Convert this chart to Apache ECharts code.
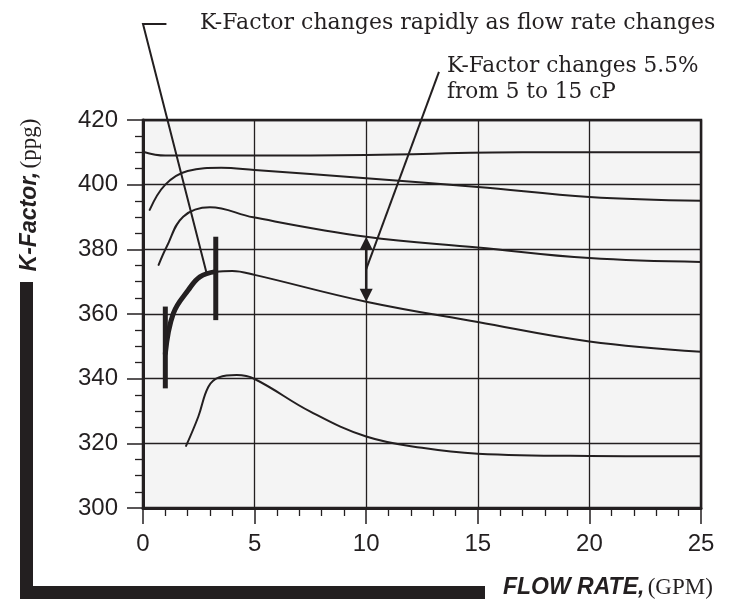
<!DOCTYPE html>
<html>
<head>
<meta charset="utf-8">
<script src="https://cdn.jsdelivr.net/npm/echarts@6/dist/echarts.min.js"></script>
<style>
  html, body { margin: 0; padding: 0; background: #ffffff; }
  #chart { width: 732px; height: 600px; }
</style>
</head>
<body>
<div id="chart"></div>
<script>
// Flow rate axis (GPM) and K-Factor axis (ppg)
const flowTicks = [0, 5, 10, 15, 20, 25];
const kTicks = [300, 320, 340, 360, 380, 400, 420];

// K-Factor curves, one per fluid viscosity (top to bottom)
const curveAX = [0, 1, 5, 10, 17, 25];
const curveAY = [410.2, 409, 409, 409.2, 410, 410];

const curveBX = [0.3, 1, 2, 3.5, 5, 10, 15, 20, 25];
const curveBY = [392.2, 400, 404.2, 405.2, 404.5, 402, 399.3, 396.2, 395];

const curveCX = [0.7, 1.06, 1.8, 3.0, 4.94, 10, 15, 20, 25];
const curveCY = [375.2, 380.8, 390.1, 393.0, 389.9, 383.9, 380.6, 377.3, 376.1];

const curveDX = [1, 1.36, 2.03, 2.55, 3.26, 4.0, 5.0, 10, 15, 20, 25];
const curveDY = [347.8, 360.2, 367.4, 371.5, 373.1, 373.3, 372.1, 363.8, 357.5, 351.5, 348.3];

const curveEX = [1.93, 2.48, 2.93, 3.4, 4.2, 5, 7.5, 10, 12.5, 15, 20, 25];
const curveEY = [319.2, 328.3, 337.5, 340.4, 341.1, 339.9, 329.8, 322.1, 318.6, 316.8, 316.1, 316];

// Steep low-flow section of curve D, bounded by two range bars
const steepCount = 5;
const rangeBarX = [1, 3.26];
const rangeBarLow = [337, 358.1];
const rangeBarHigh = [362.3, 383.9];

// Viscosity comparison at 10 GPM (between curves C and D)
const compareX = 10;

const INK = '#231f20';

function pairs(xs, ys) { return xs.map((x, i) => [x, ys[i]]); }

function curveSeries(name, data, width) {
  return {
    name: name,
    type: 'line',
    data: data,
    symbol: 'none',
    smooth: 0.4,
    lineStyle: { color: INK, width: width, cap: 'round', join: 'round' },
    silent: true,
    z: 3
  };
}

const chart = echarts.init(document.getElementById('chart'), null, { renderer: 'canvas' });

chart.setOption({
  animation: false,
  backgroundColor: '#ffffff',
  grid: {
    left: 143, right: 31, top: 120, bottom: 92,
    show: true,
    backgroundColor: '#f4f4f4',
    borderColor: INK,
    borderWidth: 2.5
  },
  xAxis: {
    type: 'value',
    min: flowTicks[0],
    max: flowTicks[flowTicks.length - 1],
    interval: flowTicks[1] - flowTicks[0],
    axisLine: { show: true, onZero: false, lineStyle: { color: INK, width: 3 } },
    axisTick: { show: true, inside: false, length: 16, lineStyle: { color: INK, width: 1.5 } },
    minorTick: { show: true, splitNumber: 5, length: 8, lineStyle: { color: INK, width: 1.3 } },
    splitLine: { show: true, lineStyle: { color: INK, width: 1.3 } },
    axisLabel: {
      margin: 24,
      color: INK,
      fontFamily: 'Liberation Sans',
      fontSize: 24,
      formatter: v => String(v)
    }
  },
  yAxis: {
    type: 'value',
    min: kTicks[0],
    max: kTicks[kTicks.length - 1],
    interval: kTicks[1] - kTicks[0],
    axisLine: { show: true, onZero: false, lineStyle: { color: INK, width: 3 } },
    axisTick: { show: true, inside: false, length: 16, lineStyle: { color: INK, width: 1.5 } },
    minorTick: { show: true, splitNumber: 4, length: 8, lineStyle: { color: INK, width: 1.3 } },
    splitLine: { show: true, lineStyle: { color: INK, width: 1.3 } },
    axisLabel: {
      margin: 25,
      color: INK,
      fontFamily: 'Liberation Sans',
      fontSize: 24,
      formatter: v => String(v)
    }
  },
  series: [
    curveSeries('A', pairs(curveAX, curveAY), 2),
    curveSeries('B', pairs(curveBX, curveBY), 2),
    curveSeries('C', pairs(curveCX, curveCY), 2),
    curveSeries('D', pairs(curveDX, curveDY), 2),
    curveSeries('D steep', pairs(curveDX.slice(0, steepCount), curveDY.slice(0, steepCount)), 5),
    curveSeries('E', pairs(curveEX, curveEY), 2)
  ]
});

// Annotations positioned from data coordinates
const toPx = p => chart.convertToPixel({ gridIndex: 0 }, p);

const yAt10C = curveCY[curveCX.indexOf(compareX)];
const yAt10D = curveDY[curveDX.indexOf(compareX)];
const arrowTop = toPx([compareX, yAt10C]);
const arrowBot = toPx([compareX, yAt10D]);
const head = 13, halfW = 6.5;

const leaderCorner = toPx([0, 449.7]);
const leaderHook = toPx([1.05, 449.7]);
const leaderEnd = toPx([2.85, 372.6]);
const note2Start = toPx([13.26, 434.9]);
const note2End = toPx([compareX, (yAt10C + yAt10D) / 2]);

const graphics = [];

// Range bars on the steep section
rangeBarX.forEach((x, i) => {
  const a = toPx([x, rangeBarLow[i]]);
  const b = toPx([x, rangeBarHigh[i]]);
  graphics.push({
    type: 'line', z: 10,
    shape: { x1: a[0], y1: a[1], x2: b[0], y2: b[1] },
    style: { stroke: INK, lineWidth: 5 }
  });
});

// Double-headed arrow at 10 GPM
graphics.push({
  type: 'line', z: 10,
  shape: { x1: arrowTop[0], y1: arrowTop[1] + head - 2, x2: arrowBot[0], y2: arrowBot[1] - head + 2 },
  style: { stroke: INK, lineWidth: 2.5 }
});
graphics.push({
  type: 'polygon', z: 10,
  shape: { points: [[arrowTop[0], arrowTop[1]], [arrowTop[0] - halfW, arrowTop[1] + head], [arrowTop[0] + halfW, arrowTop[1] + head]] },
  style: { fill: INK }
});
graphics.push({
  type: 'polygon', z: 10,
  shape: { points: [[arrowBot[0], arrowBot[1]], [arrowBot[0] - halfW, arrowBot[1] - head], [arrowBot[0] + halfW, arrowBot[1] - head]] },
  style: { fill: INK }
});

// Leader lines for the notes
graphics.push({
  type: 'polyline', z: 10,
  shape: { points: [leaderHook, leaderCorner, leaderEnd] },
  style: { stroke: INK, lineWidth: 2, fill: null }
});
graphics.push({
  type: 'line', z: 10,
  shape: { x1: note2Start[0], y1: note2Start[1], x2: note2End[0], y2: note2End[1] },
  style: { stroke: INK, lineWidth: 2 }
});

// Notes
graphics.push({
  type: 'text', z: 10, x: 200, y: 23,
  style: {
    text: 'K-Factor changes rapidly as flow rate changes',
    fill: INK, font: '22px "DejaVu Serif"',
    textAlign: 'left', textVerticalAlign: 'middle'
  }
});
graphics.push({
  type: 'text', z: 10, x: 447, y: 53,
  style: {
    text: 'K-Factor changes 5.5%\nfrom 5 to 15 cP',
    fill: INK, font: '21.6px "DejaVu Serif"', lineHeight: 26,
    textAlign: 'left', textVerticalAlign: 'top'
  }
});

// Axis titles
graphics.push({
  type: 'text', z: 10, x: 30, y: 195, rotation: Math.PI / 2,
  style: {
    text: '{a|K-Factor,} {b|(ppg)}',
    fill: INK,
    textAlign: 'center', textVerticalAlign: 'middle',
    rich: {
      a: { fontFamily: 'Liberation Sans', fontWeight: 'bold', fontStyle: 'italic', fontSize: 23, fill: INK },
      b: { fontFamily: 'Liberation Serif', fontSize: 23, fill: INK }
    }
  }
});
graphics.push({
  type: 'text', z: 10, x: 503, y: 588,
  style: {
    text: '{a|FLOW RATE,} {b|(GPM)}',
    fill: INK,
    textAlign: 'left', textVerticalAlign: 'middle',
    rich: {
      a: { fontFamily: 'Liberation Sans', fontWeight: 'bold', fontStyle: 'italic', fontSize: 23, fill: INK },
      b: { fontFamily: 'Liberation Serif', fontSize: 23, fill: INK }
    }
  }
});

// L-shaped frame bar along the axis titles
graphics.push({ type: 'rect', z: 5, shape: { x: 20, y: 282, width: 13, height: 317 }, style: { fill: INK } });
graphics.push({ type: 'rect', z: 5, shape: { x: 20, y: 586, width: 465, height: 13 }, style: { fill: INK } });

chart.setOption({ graphic: graphics });
</script>
</body>
</html>
